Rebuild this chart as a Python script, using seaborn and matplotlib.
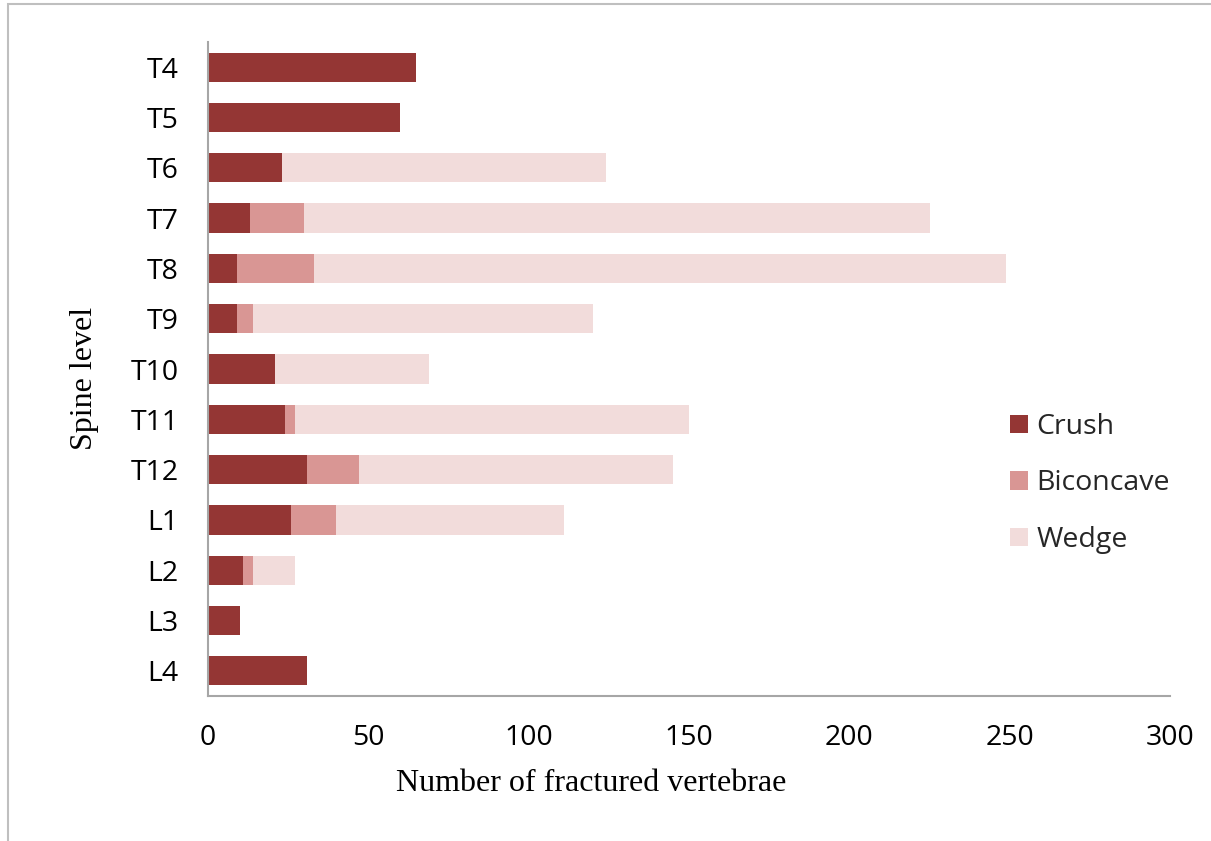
import matplotlib
matplotlib.use("Agg")
import matplotlib.pyplot as plt
import seaborn as sns
import pandas as pd
from matplotlib.patches import Rectangle

# ── Data ───────────────────────────────────────────────────────────────────
levels    = ["T4", "T5", "T6", "T7", "T8", "T9", "T10", "T11", "T12", "L1", "L2", "L3", "L4"]
crush     = [65, 60, 23, 13, 9, 9, 21, 24, 31, 26, 11, 10, 31]
biconcave = [0, 0, 0, 17, 24, 5, 0, 3, 16, 14, 3, 0, 0]
wedge     = [0, 0, 101, 195, 216, 106, 48, 123, 98, 71, 13, 0, 0]

colors = {"Crush": "#943634", "Biconcave": "#D99694", "Wedge": "#F2DCDB"}

df = pd.DataFrame({"level": levels, "Crush": crush,
                   "Biconcave": biconcave, "Wedge": wedge})
# cumulative ends for stacking (draw longest first, then overlay)
df["end_crush"] = df["Crush"]
df["end_bic"]   = df["Crush"] + df["Biconcave"]
df["end_wedge"] = df["end_bic"] + df["Wedge"]

sns.set_style("white")
tick_font  = "Open Sans"
label_font = "Liberation Serif"

fig = plt.figure(figsize=(12.11, 8.41), dpi=100)
ax = fig.add_axes([208 / 1211, 1 - 696 / 841, (1170 - 208) / 1211, (696 - 42) / 841])

for col, name in [("end_wedge", "Wedge"), ("end_bic", "Biconcave"), ("end_crush", "Crush")]:
    sns.barplot(data=df, x=col, y="level", order=levels, orient="h",
                color=colors[name], width=0.58, ax=ax, label=name,
                saturation=1, linewidth=0)

ax.set_xlim(0, 300)
ax.set_ylim(12.5, -0.5)
ax.set_xticks(range(0, 301, 50))
for sp in ["top", "right"]:
    ax.spines[sp].set_visible(False)
for sp in ["left", "bottom"]:
    ax.spines[sp].set_color("#A6A6A6")
    ax.spines[sp].set_linewidth(1.5)
ax.tick_params(axis="both", length=0, labelsize=20.5, labelcolor="black")
ax.tick_params(axis="x", pad=20)
ax.tick_params(axis="y", pad=21)
for t in ax.get_xticklabels() + ax.get_yticklabels():
    t.set_family(tick_font)

ax.set_xlabel("Number of fractured vertebrae", fontsize=23, family=label_font,
              color="black")
ax.xaxis.set_label_coords(0.398, -0.111)
ax.set_ylabel("Spine level", fontsize=23, family=label_font, color="black")
ax.yaxis.set_label_coords(-0.113, 0.486)

handles, labels = ax.get_legend_handles_labels()
order = ["Crush", "Biconcave", "Wedge"]
hmap = dict(zip(labels, handles))
ax.legend([hmap[k] for k in order], order, loc="center left",
          bbox_to_anchor=(0.834, 0.325), frameon=False, borderpad=0,
          prop={"family": tick_font, "size": 20.5},
          handlelength=0.62, handleheight=0.62, handletextpad=0.3,
          labelspacing=1.0, borderaxespad=0)

# outer chart-area border
fig.patches.append(Rectangle((8 / 1211, -0.1), 1.2, (1 - 4 / 841) + 0.1,
                             transform=fig.transFigure, fill=False,
                             edgecolor="#BFBFBF", linewidth=1.5))

fig.savefig("out.png", dpi=100)
